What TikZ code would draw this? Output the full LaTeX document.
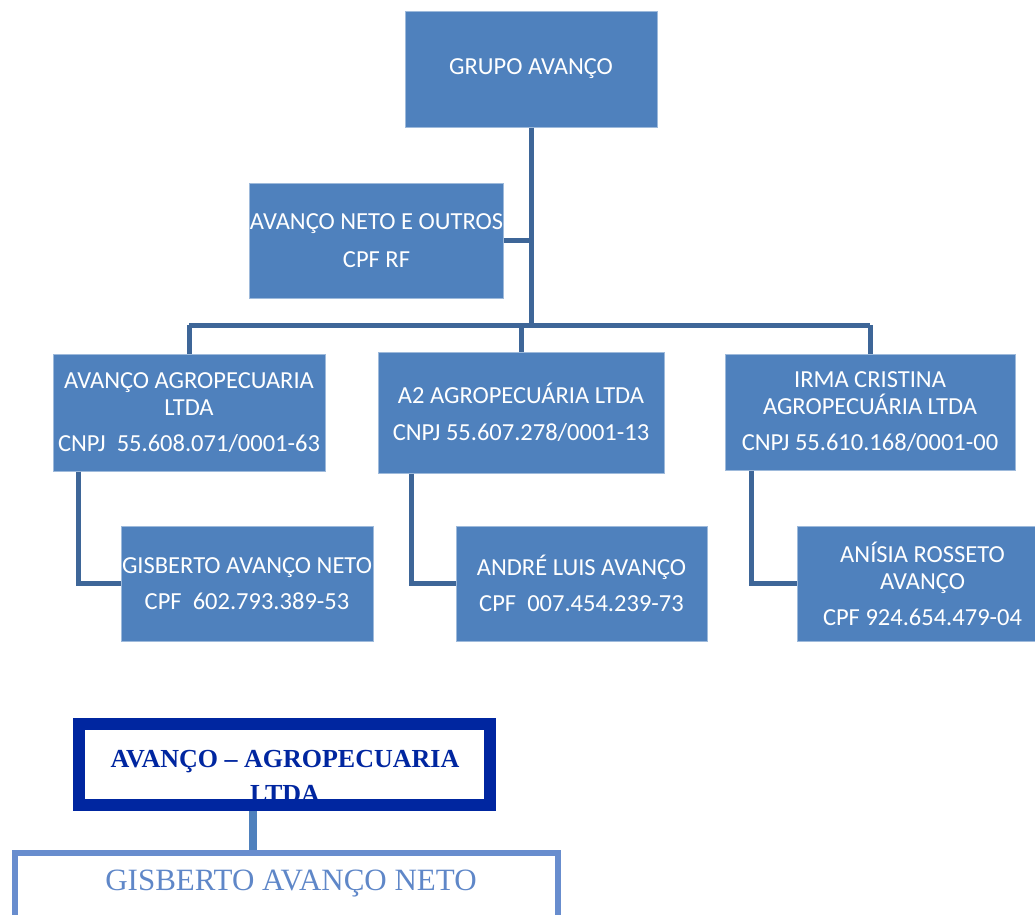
\documentclass[tikz,border=0pt]{standalone}
\usepackage{fontspec}
\setmainfont{Carlito}
\newfontfamily\serifbox{Liberation Serif}
\definecolor{boxblue}{RGB}{79,129,189}
\definecolor{linkblue}{RGB}{62,102,152}
\definecolor{navyblue}{RGB}{0,38,160}
\definecolor{gisblue}{RGB}{104,141,206}
\definecolor{gistext}{RGB}{95,135,200}
\tikzset{
  orgbox/.style={draw=boxblue!55!white, line width=1pt, fill=boxblue, text=white,
    inner sep=0pt, align=center, font=\fontsize{24.5}{27}\selectfont},
  orglink/.style={draw=linkblue, line width=5pt},
  firmbox/.style={draw=navyblue, line width=12pt, fill=white, inner sep=0pt},
  ownerbox/.style={draw=gisblue, line width=6pt, inner sep=0pt}
}
\begin{document}
\begin{tikzpicture}[x=1pt,y=-1pt]
  \clip (0,0) rectangle (1035,914);
  \node[orgbox, minimum width=252, minimum height=116] (grupo) at (531,69) {GRUPO AVANÇO};
  \node[orgbox, minimum width=251, minimum height=115] (neto) at (376.5,240.5) {AVANÇO NETO E OUTROS\\[11pt]CPF RF};
  \node[orgbox, minimum width=272, minimum height=117] (agro) at (189,412.5) {AVANÇO AGROPECUARIA\\LTDA\\[9pt]CNPJ~~55.608.071/0001-63};
  \node[orgbox, minimum width=286, minimum height=121] (atwo) at (521,412.5) {A2 AGROPECUÁRIA LTDA\\[10pt]CNPJ 55.607.278/0001-13};
  \node[orgbox, minimum width=290, minimum height=116] (irma) at (870,412) {IRMA CRISTINA\\AGROPECUÁRIA LTDA\\[9pt]CNPJ 55.610.168/0001-00};
  \node[orgbox, minimum width=252, minimum height=115] (gisberto) at (247,583.5) {GISBERTO AVANÇO NETO\\[9pt]CPF~~602.793.389-53};
  \node[orgbox, minimum width=251, minimum height=115] (andre) at (581.5,583.5) {ANDRÉ LUIS AVANÇO\\[9pt]CPF~~007.454.239-73};
  \node[orgbox, minimum width=251, minimum height=115] (anisia) at (922.5,583.5) {ANÍSIA ROSSETO\\AVANÇO\\[9pt]CPF 924.654.479-04};
  \coordinate (bus) at (531,325);
  \draw[orglink] (grupo.south) -- (bus);
  \draw[orglink] (neto.east) -- (grupo.south |- neto.east);
  \draw[orglink] (agro.north |- bus) -- (irma.north |- bus);
  \draw[orglink] (agro.north |- bus) -- (agro.north);
  \draw[orglink] (atwo.north |- bus) -- (atwo.north);
  \draw[orglink] (irma.north |- bus) -- (irma.north);
  \draw[orglink] ([xshift=-111pt]agro.south) |- (gisberto.west);
  \draw[orglink] ([xshift=-110pt]atwo.south) |- (andre.west);
  \draw[orglink] ([xshift=-119pt]irma.south) |- (anisia.west);
  \node[firmbox, minimum width=411, minimum height=81] (firma) at (284.5,764.5) {};
  \node[text=navyblue, align=center, inner sep=0pt, font=\serifbox\bfseries\fontsize{26}{35}\selectfont] (firmatext) at (285,776) {AVANÇO – AGROPECUARIA\\LTDA};
  \node[ownerbox, minimum width=543, minimum height=140, anchor=north] (dono) at (286,850) {};
  \node[text=gistext, inner sep=0pt, font=\serifbox\fontsize{31}{36}\selectfont] (donotext) at (291,884) {GISBERTO AVANÇO NETO};
  \draw[draw=boxblue, line width=8pt] ([xshift=-32pt]firma.south) -- ([xshift=-32pt]firma.south |- dono.north);
\end{tikzpicture}
\end{document}
